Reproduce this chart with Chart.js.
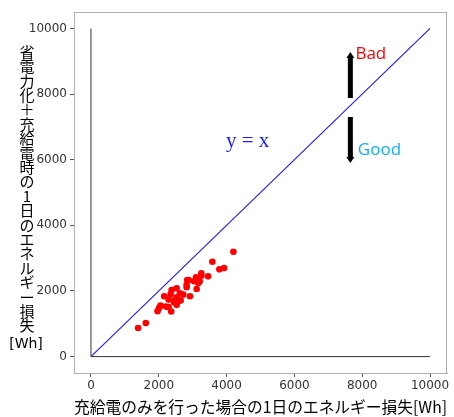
<!DOCTYPE html>
<html>
<head>
<meta charset="utf-8">
<script src="https://cdn.jsdelivr.net/npm/chart.js@4.4.1/dist/chart.umd.min.js"></script>
<style>
  html, body { margin: 0; padding: 0; background: #fff; }
  #wrap { position: relative; width: 454px; height: 417px; }
</style>
</head>
<body>
<div id="wrap"><canvas id="c" width="454" height="417"></canvas></div>
<script>
// measured daily energy loss [Wh]: charge/discharge only (x) vs power saving + charge/discharge (y)
const lossChargeOnly = [1390, 1618, 4201, 3580, 3926, 3787, 3453, 3254, 3254, 3098,
  3207, 3166, 3038, 2840, 2882, 2822, 2822, 3118, 2527, 2379,
  2349, 2624, 2722, 2920, 2160, 2527, 2476, 2544, 2447, 2290,
  2645, 2527, 2053, 2012, 2210, 2290, 1964, 2367];
const lossWithSaving = [870, 1021, 3191, 2888, 2697, 2658, 2445, 2536, 2464, 2415,
  2294, 2242, 2294, 2333, 2333, 2191, 2112, 2061, 2082, 2030,
  1909, 1930, 1888, 1839, 1839, 1809, 1736, 1676, 1658, 1736,
  1706, 1576, 1555, 1485, 1524, 1506, 1385, 1373];

const refEnds = [0, 10000];          // y = x line and the two axis lines
const tickValues = [0, 2000, 4000, 6000, 8000, 10000];

const xTitle = '充給電のみを行った場合の1日のエネルギー損失[Wh]';
const yTitleChars = '省電力化＋充給電時の1日のエネルギー損失'.split('');
const yTitleUnit = '[Wh]';

// annotations (data coordinates)
const badArrow = [7650, 7880, 9280];   // x, y from, y to
const goodArrow = [7650, 7300, 5900];
const labelBad = ['Bad', 7800, 9210];
const labelGood = ['Good', 7870, 6300];
const labelLine = ['y = x', 3980, 6540];

const pts = lossChargeOnly.map((x, i) => ({ x: x, y: lossWithSaving[i] }));

const overlay = {
  id: 'overlay',
  beforeDatasetsDraw(chart) {
    const a = chart.chartArea, ctx = chart.ctx;
    ctx.save();
    ctx.strokeStyle = '#b0b0b0';
    ctx.lineWidth = 1;
    ctx.strokeRect(a.left + 0.5, a.top + 0.5, a.right - a.left - 1, a.bottom - a.top);
    ctx.restore();
  },
  afterDraw(chart) {
    const ctx = chart.ctx, xs = chart.scales.x, ys = chart.scales.y;
    ctx.save();
    // y axis title, stacked upright characters
    ctx.fillStyle = '#000';
    ctx.font = '15px "Noto Sans CJK JP"';
    ctx.textAlign = 'center';
    ctx.textBaseline = 'middle';
    yTitleChars.forEach((ch, i) => ctx.fillText(ch, 27, 52 + i * 14.4));
    ctx.font = '14px "DejaVu Sans"';
    ctx.fillText(yTitleUnit, 26, 344);

    // arrows
    function arrow(spec) {
      const x = xs.getPixelForValue(spec[0]);
      const y0 = ys.getPixelForValue(spec[1]);
      const y1 = ys.getPixelForValue(spec[2]);
      const dir = y1 < y0 ? -1 : 1;
      ctx.fillStyle = '#000';
      ctx.fillRect(x - 2.5, Math.min(y0, y1 - dir * 5), 5, Math.abs(y1 - dir * 5 - y0));
      ctx.beginPath();
      ctx.moveTo(x - 4, y1 - dir * 6);
      ctx.lineTo(x + 4, y1 - dir * 6);
      ctx.lineTo(x, y1);
      ctx.closePath();
      ctx.fill();
    }
    arrow(badArrow);
    arrow(goodArrow);

    ctx.textAlign = 'left';
    ctx.font = '17px "Open Sans"';
    ctx.fillStyle = '#ff0000';
    ctx.fillText(labelBad[0], xs.getPixelForValue(labelBad[1]), ys.getPixelForValue(labelBad[2]));
    ctx.fillStyle = '#10b0f0';
    ctx.fillText(labelGood[0], xs.getPixelForValue(labelGood[1]), ys.getPixelForValue(labelGood[2]));
    ctx.fillStyle = '#1a1aff';
    ctx.font = '21px "Liberation Serif"';
    ctx.fillText(labelLine[0], xs.getPixelForValue(labelLine[1]), ys.getPixelForValue(labelLine[2]));
    ctx.restore();
  }
};

const tickFont = { family: 'DejaVu Sans', size: 12 };
const plainTick = v => String(v);

new Chart(document.getElementById('c'), {
  type: 'scatter',
  data: {
    datasets: [
      {
        data: pts,
        backgroundColor: '#ff0000',
        borderColor: '#ff0000',
        pointRadius: 3.3,
        pointBorderWidth: 0
      },
      {
        data: refEnds.map(v => ({ x: v, y: v })),
        showLine: true,
        borderColor: '#2020ff',
        borderWidth: 1.2,
        pointRadius: 0
      },
      {
        data: refEnds.map(v => ({ x: 0, y: v })),
        showLine: true,
        borderColor: '#333',
        borderWidth: 1,
        pointRadius: 0
      },
      {
        data: refEnds.map(v => ({ x: v, y: 0 })),
        showLine: true,
        borderColor: '#333',
        borderWidth: 1,
        pointRadius: 0
      }
    ]
  },
  options: {
    responsive: false,
    animation: false,
    layout: { padding: { top: 12, right: 7, left: 0, bottom: 0 } },
    plugins: { legend: { display: false }, tooltip: { enabled: false } },
    scales: {
      x: {
        type: 'linear',
        min: -500,
        max: 10500,
        afterBuildTicks: s => { s.ticks = tickValues.map(v => ({ value: v })); },
        afterFit: s => { s.height = 44; },
        grid: { display: true, drawOnChartArea: false, tickLength: 4, color: '#555' },
        border: { display: true, color: '#b0b0b0' },
        ticks: { font: tickFont, color: '#333', padding: 2, maxRotation: 0, callback: plainTick },
        title: {
          display: true,
          text: xTitle,
          font: { family: 'Noto Sans CJK JP', size: 16 },
          color: '#000',
          padding: { top: 0, bottom: 0 }
        }
      },
      y: {
        type: 'linear',
        min: -500,
        max: 10500,
        afterBuildTicks: s => { s.ticks = tickValues.map(v => ({ value: v })); },
        afterFit: s => { s.width = 74; },
        grid: { display: true, drawOnChartArea: false, tickLength: 4, color: '#555' },
        border: { display: true, color: '#b0b0b0' },
        ticks: { font: tickFont, color: '#333', padding: 3, callback: plainTick }
      }
    }
  },
  plugins: [overlay]
});
</script>
</body>
</html>
